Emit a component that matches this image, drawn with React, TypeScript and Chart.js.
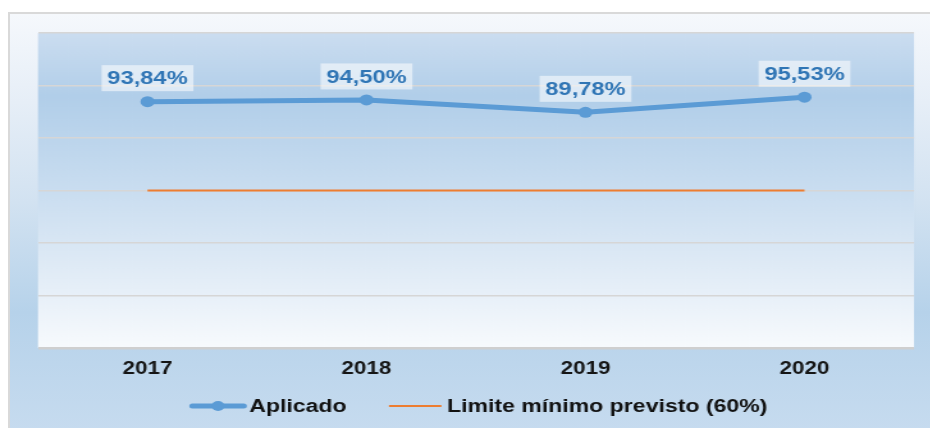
import React, { useEffect, useRef } from "react";
import { Chart, registerables } from "chart.js";

Chart.register(...registerables);

// ---- data ----
const categories = ["2017", "2018", "2019", "2020"];
const aplicado = [93.84, 94.5, 89.78, 95.53];
const limite = [60, 60, 60, 60];
const seriesNames = ["Aplicado", "Limite mínimo previsto (60%)"];
const yMin = 0;
const yMax = 120;
const yStep = 20;

// ---- styling ----
const SX = 1.28; // horizontal stretch of the reference image
const W = Math.round(930 / SX);
const H = 428;
const FONT = '"Liberation Sans", Arial, sans-serif';
const BLUE = "#5B9BD5";
const ORANGE = "#ED7D31";
const LABEL_BLUE = "#2F75B5";

const fmt = (v: number) => v.toFixed(2).replace(".", ",") + "%";

const plotBgPlugin = {
  id: "plotBg",
  beforeDraw(chart: any) {
    const { ctx, chartArea } = chart;
    if (!chartArea) return;
    const { left, right, top, bottom } = chartArea;
    const g = ctx.createLinearGradient(0, top, 0, bottom);
    g.addColorStop(0, "#cbddf0");
    g.addColorStop(0.2, "#b1cee9");
    g.addColorStop(0.5, "#c9ddf0");
    g.addColorStop(0.75, "#e0ebf6");
    g.addColorStop(1, "#f7fafd");
    ctx.save();
    ctx.fillStyle = g;
    ctx.fillRect(left, top, right - left, bottom - top);
    ctx.restore();
  },
};

const labelPlugin = {
  id: "valueLabels",
  afterDatasetsDraw(chart: any) {
    const { ctx } = chart;
    const meta = chart.getDatasetMeta(0);
    const data = chart.data.datasets[0].data as number[];
    ctx.save();
    ctx.font = `bold 18.5px ${FONT}`;
    ctx.textAlign = "center";
    ctx.textBaseline = "middle";
    meta.data.forEach((el: any, i: number) => {
      const txt = fmt(data[i]);
      const w = ctx.measureText(txt).width;
      const cx = el.x;
      const cy = el.y - 23.5;
      ctx.fillStyle = "rgba(255,255,255,0.55)";
      ctx.fillRect(cx - w / 2 - 4.5, cy - 13, w + 9, 26);
      ctx.fillStyle = LABEL_BLUE;
      ctx.fillText(txt, cx, cy + 1);
    });
    ctx.restore();
  },
};

const legendPlugin = {
  id: "customLegend",
  afterDraw(chart: any) {
    const { ctx, chartArea } = chart;
    const y = 406;
    ctx.save();
    ctx.font = `bold 18px ${FONT}`;
    ctx.textBaseline = "middle";
    ctx.textAlign = "left";
    const l1 = 44, g1 = 2.5, between = 33, l2 = 41, g2 = 4.5;
    const t1 = ctx.measureText(seriesNames[0]).width;
    const t2 = ctx.measureText(seriesNames[1]).width;
    const total = l1 + g1 + t1 + between + l2 + g2 + t2;
    let x = (chartArea.left + chartArea.right) / 2 + 2 - total / 2;
    // item 1
    ctx.strokeStyle = BLUE;
    ctx.lineWidth = 5;
    ctx.lineCap = "round";
    ctx.beginPath();
    ctx.moveTo(x + 2, y);
    ctx.lineTo(x + l1 - 2, y);
    ctx.stroke();
    ctx.fillStyle = BLUE;
    ctx.beginPath();
    ctx.arc(x + l1 / 2, y, 5, 0, Math.PI * 2);
    ctx.fill();
    x += l1 + g1;
    ctx.fillStyle = "#111";
    ctx.fillText(seriesNames[0], x, y + 1);
    x += t1 + between;
    // item 2
    ctx.strokeStyle = ORANGE;
    ctx.lineWidth = 2;
    ctx.lineCap = "butt";
    ctx.beginPath();
    ctx.moveTo(x, y);
    ctx.lineTo(x + l2, y);
    ctx.stroke();
    x += l2 + g2;
    ctx.fillStyle = "#111";
    ctx.fillText(seriesNames[1], x, y + 1);
    ctx.restore();
  },
};

export default function App() {
  const ref = useRef<HTMLCanvasElement | null>(null);

  useEffect(() => {
    if (!ref.current) return;
    const chart = new Chart(ref.current, {
      type: "line",
      data: {
        labels: categories,
        datasets: [
          {
            label: seriesNames[0],
            data: aplicado,
            borderColor: BLUE,
            backgroundColor: BLUE,
            borderWidth: 5,
            pointRadius: 5.5,
            pointBackgroundColor: BLUE,
            pointBorderWidth: 0,
            tension: 0,
            order: 0,
          },
          {
            label: seriesNames[1],
            data: limite,
            borderColor: ORANGE,
            backgroundColor: ORANGE,
            borderWidth: 2,
            pointRadius: 0,
            tension: 0,
            order: 1,
          },
        ],
      },
      options: {
        responsive: false,
        animation: false,
        devicePixelRatio: 1,
        events: [],
        layout: {
          padding: { left: 38 / SX, right: W - 914 / SX, top: 33, bottom: 0 },
        },
        plugins: {
          legend: { display: false },
          tooltip: { enabled: false },
        },
        scales: {
          x: {
            offset: true,
            grid: { display: false, drawTicks: false },
            border: { display: false },
            ticks: {
              color: "#151515",
              padding: 11,
              font: { family: FONT, size: 17.5, weight: "bold" },
            },
            afterFit(scale: any) {
              scale.height = H - 348;
            },
          },
          y: {
            min: yMin,
            max: yMax,
            ticks: { display: false, stepSize: yStep },
            grid: {
              drawTicks: false,
              color: (c: any) => (c.tick && c.tick.value === yMin ? "#cfcfcf" : "#d6d6d6"),
              lineWidth: (c: any) => (c.tick && c.tick.value === yMin ? 2.5 : 1.5),
            },
            border: { display: false },
          },
        },
      },
      plugins: [plotBgPlugin, labelPlugin, legendPlugin],
    } as any);
    return () => chart.destroy();
  }, []);

  return (
    <div
      style={{
        position: "fixed",
        left: 0,
        top: 0,
        width: 930,
        height: 428,
        overflow: "hidden",
        background: "#ffffff",
      }}
    >
      <div
        style={{
          position: "absolute",
          left: 8,
          top: 12,
          width: 940,
          height: 440,
          boxSizing: "border-box",
          border: "2px solid #d9d9d9",
          background:
            "linear-gradient(to bottom, #f5f8fc 0px, #e6eef7 88px, #d2e2f1 188px, #b6d2ea 298px, #c6dbef 416px)",
        }}
      />
      <canvas
        ref={ref}
        width={W}
        height={H}
        style={{
          position: "absolute",
          left: 0,
          top: 0,
          transform: `scaleX(${SX})`,
          transformOrigin: "0 0",
        }}
      />
    </div>
  );
}
